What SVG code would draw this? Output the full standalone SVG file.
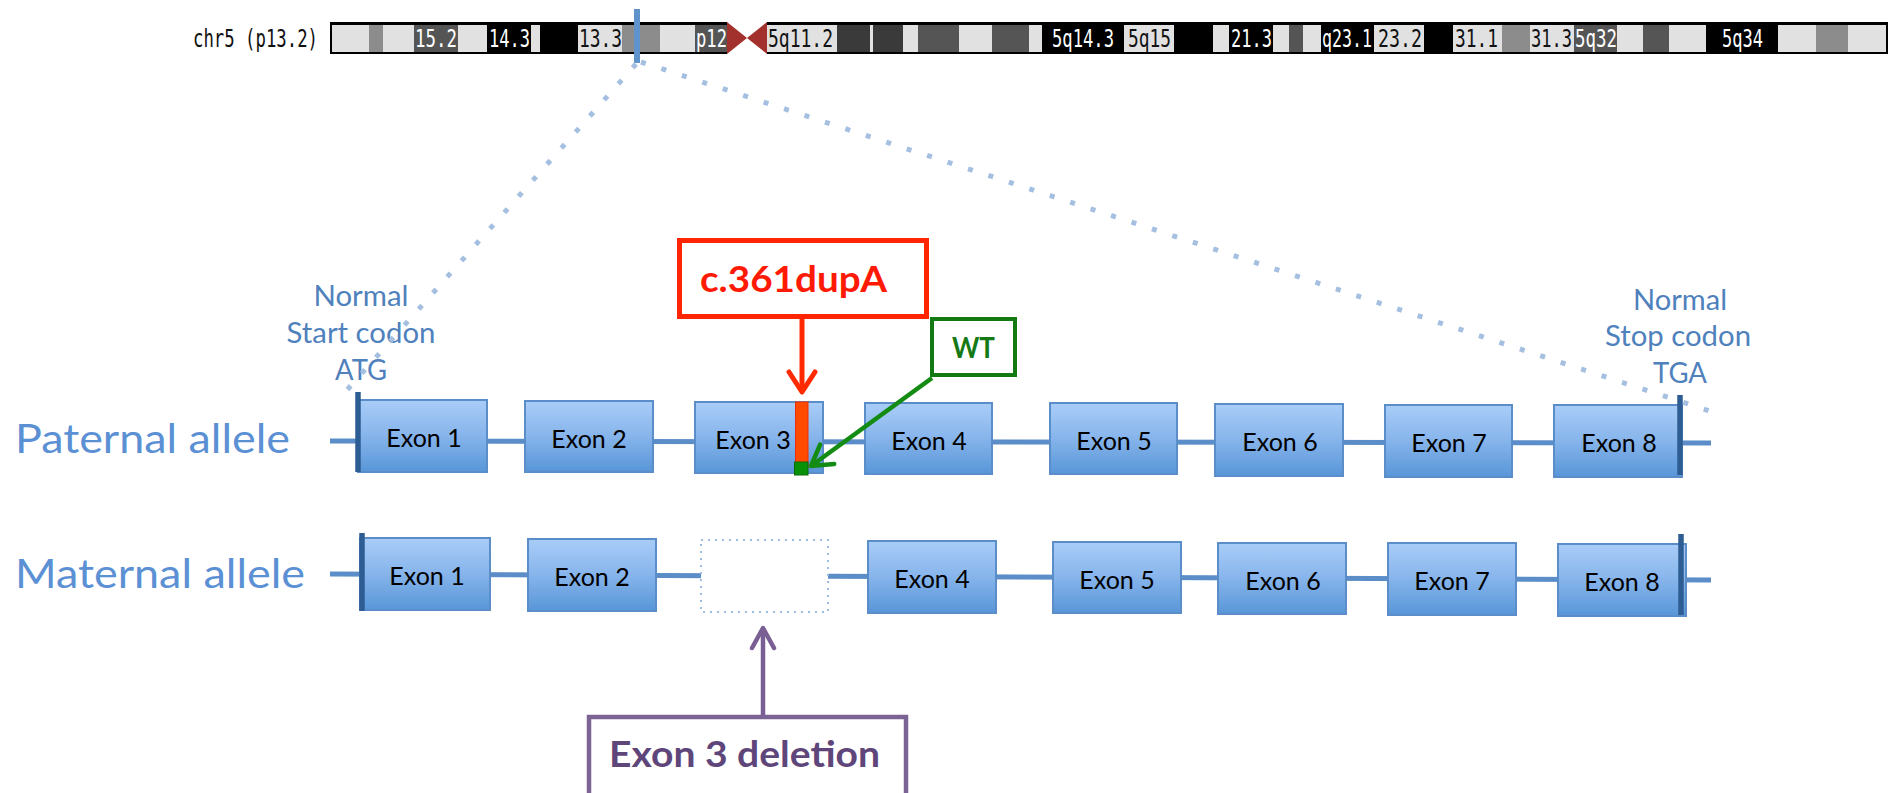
<svg xmlns="http://www.w3.org/2000/svg" width="1898" height="793" viewBox="0 0 1898 793">
<defs>
<linearGradient id="exonGrad" x1="0" y1="0" x2="0" y2="1">
<stop offset="0" stop-color="#a9cdf8"/>
<stop offset="0.5" stop-color="#86b4eb"/>
<stop offset="1" stop-color="#5896d8"/>
</linearGradient>
<marker id="headRed" markerUnits="userSpaceOnUse" markerWidth="30" markerHeight="34" viewBox="0 0 30 34" refX="24" refY="17" orient="auto">
<path d="M4,4 L24,17 L4,30" fill="none" stroke="#ff2a00" stroke-width="5" stroke-linecap="round" stroke-linejoin="round"/>
</marker>
<marker id="headGreen" markerUnits="userSpaceOnUse" markerWidth="30" markerHeight="34" viewBox="0 0 30 34" refX="24" refY="17" orient="auto">
<path d="M4,5 L24,17 L4,29" fill="none" stroke="#148c14" stroke-width="4.5" stroke-linecap="round" stroke-linejoin="round"/>
</marker>
<marker id="headPurple" markerUnits="userSpaceOnUse" markerWidth="30" markerHeight="34" viewBox="0 0 30 34" refX="24" refY="17" orient="auto">
<path d="M4,6 L24,17 L4,28" fill="none" stroke="#7a5f94" stroke-width="4.5" stroke-linecap="round" stroke-linejoin="round"/>
</marker>
</defs>
<style>
.band-l{fill:#e1e1e1}
.band-g{fill:#8c8c8c}
.band-d{fill:#555555}
.band-k{fill:#3a3a3a}
.bt{font-family:"DejaVu Sans Mono","Liberation Mono",monospace;font-size:18px}
.bt-w{fill:#ffffff}
.bt-b{fill:#111111}
.exon{fill:url(#exonGrad);stroke:#5b8ec9;stroke-width:2}
.exon-label{font-family:Lato,"Open Sans",sans-serif;font-size:25px;fill:#000;text-anchor:middle}
.allele{font-family:Lato,"Open Sans",sans-serif;font-size:41px;fill:#5b90d4}
.codon{font-family:Lato,"Open Sans",sans-serif;font-size:28px;fill:#4f81bd;text-anchor:middle}
.backbone{stroke:#5b8ec9;stroke-width:5;fill:none}
.endbar{stroke:#2d5d92;stroke-width:5.5}
.zoomline{stroke:#a4bfe0;stroke-width:5;stroke-dasharray:5 16.5;fill:none}
</style>

<!-- chromosome ideogram -->
<g id="chromosome">
<rect x="330" y="22" width="397" height="32" fill="#000"/>
<rect x="767" y="22" width="1121" height="32" fill="#000"/>
<g>
<rect class="band-l" x="332" y="25" width="37" height="27"/>
<rect class="band-g" x="369" y="25" width="14" height="27"/>
<rect class="band-l" x="383" y="25" width="31" height="27"/>
<rect class="band-d" x="414" y="25" width="44" height="27"/>
<rect class="band-l" x="458" y="25" width="29" height="27"/>
<rect class="band-l" x="531" y="25" width="9" height="27"/>
<rect class="band-l" x="578" y="25" width="44" height="27"/>
<rect class="band-g" x="622" y="25" width="38" height="27"/>
<rect class="band-l" x="660" y="25" width="35" height="27"/>
<rect class="band-d" x="695" y="25" width="32" height="27"/>
<rect class="band-l" x="767" y="25" width="70" height="27"/>
<rect class="band-k" x="837" y="25" width="33" height="27"/>
<rect class="band-l" x="870" y="25" width="3" height="27"/>
<rect class="band-k" x="873" y="25" width="30" height="27"/>
<rect class="band-l" x="903" y="25" width="15" height="27"/>
<rect class="band-d" x="918" y="25" width="41" height="27"/>
<rect class="band-l" x="959" y="25" width="33" height="27"/>
<rect class="band-d" x="992" y="25" width="37" height="27"/>
<rect class="band-l" x="1029" y="25" width="13" height="27"/>
<rect class="band-l" x="1124" y="25" width="50" height="27"/>
<rect class="band-l" x="1213" y="25" width="16" height="27"/>
<rect class="band-l" x="1273" y="25" width="16" height="27"/>
<rect class="band-d" x="1289" y="25" width="14" height="27"/>
<rect class="band-l" x="1303" y="25" width="18" height="27"/>
<rect class="band-l" x="1374" y="25" width="50" height="27"/>
<rect class="band-l" x="1453" y="25" width="49" height="27"/>
<rect class="band-g" x="1502" y="25" width="28" height="27"/>
<rect class="band-l" x="1530" y="25" width="44" height="27"/>
<rect class="band-d" x="1574" y="25" width="43" height="27"/>
<rect class="band-l" x="1617" y="25" width="26" height="27"/>
<rect class="band-d" x="1643" y="25" width="26" height="27"/>
<rect class="band-l" x="1669" y="25" width="37" height="27"/>
<rect class="band-l" x="1778" y="25" width="38" height="27"/>
<rect class="band-g" x="1816" y="25" width="32" height="27"/>
<rect class="band-l" x="1848" y="25" width="38" height="27"/>
</g>
<polygon points="727,22 747,38 767,22 767,54 747,38 727,54" fill="#a2302c"/>
<g transform="matrix(1,0,0,1.4,0,-18.68)">
<text class="bt bt-b" x="193" y="46.7" textLength="125" lengthAdjust="spacingAndGlyphs">chr5 (p13.2)</text>
<text class="bt bt-w" x="415" y="46.7" textLength="42" lengthAdjust="spacingAndGlyphs">15.2</text>
<text class="bt bt-w" x="489" y="46.7" textLength="41" lengthAdjust="spacingAndGlyphs">14.3</text>
<text class="bt bt-b" x="579" y="46.7" textLength="43" lengthAdjust="spacingAndGlyphs">13.3</text>
<text class="bt bt-w" x="696" y="46.7" textLength="31" lengthAdjust="spacingAndGlyphs">p12</text>
<text class="bt bt-b" x="768" y="46.7" textLength="65" lengthAdjust="spacingAndGlyphs">5q11.2</text>
<text class="bt bt-w" x="1052" y="46.7" textLength="62" lengthAdjust="spacingAndGlyphs">5q14.3</text>
<text class="bt bt-b" x="1128" y="46.7" textLength="43" lengthAdjust="spacingAndGlyphs">5q15</text>
<text class="bt bt-w" x="1231" y="46.7" textLength="41" lengthAdjust="spacingAndGlyphs">21.3</text>
<text class="bt bt-w" x="1322" y="46.7" textLength="50" lengthAdjust="spacingAndGlyphs">q23.1</text>
<text class="bt bt-b" x="1378" y="46.7" textLength="44" lengthAdjust="spacingAndGlyphs">23.2</text>
<text class="bt bt-b" x="1455" y="46.7" textLength="43" lengthAdjust="spacingAndGlyphs">31.1</text>
<text class="bt bt-b" x="1531" y="46.7" textLength="41" lengthAdjust="spacingAndGlyphs">31.3</text>
<text class="bt bt-w" x="1575" y="46.7" textLength="42" lengthAdjust="spacingAndGlyphs">5q32</text>
<text class="bt bt-w" x="1722" y="46.7" textLength="41" lengthAdjust="spacingAndGlyphs">5q34</text>
</g>
<rect id="locus-marker" x="634" y="9" width="6" height="54" fill="#5f93cc"/>
</g>

<!-- gene backbones -->
<g id="backbones">
<line class="backbone" x1="330" y1="441" x2="1711" y2="443"/>
<line class="backbone" x1="330" y1="574" x2="1711" y2="580"/>
</g>

<!-- allele labels -->
<g id="label-paternal"><text class="allele" x="15" y="453" textLength="275" lengthAdjust="spacingAndGlyphs">Paternal allele</text></g>
<g id="label-maternal"><text class="allele" x="15" y="588" textLength="290" lengthAdjust="spacingAndGlyphs">Maternal allele</text></g>

<g id="label-start">
<text class="codon" x="361" y="306" textLength="95" lengthAdjust="spacingAndGlyphs">Normal</text>
<text class="codon" x="361" y="343" textLength="149" lengthAdjust="spacingAndGlyphs">Start codon</text>
<text class="codon" x="361" y="380" textLength="52" lengthAdjust="spacingAndGlyphs">ATG</text>
</g>
<g id="label-stop">
<text class="codon" x="1680" y="310" textLength="94" lengthAdjust="spacingAndGlyphs">Normal</text>
<text class="codon" x="1678" y="346" textLength="146" lengthAdjust="spacingAndGlyphs">Stop codon</text>
<text class="codon" x="1680" y="383" textLength="54" lengthAdjust="spacingAndGlyphs">TGA</text>
</g>

<!-- paternal exons -->
<g id="pat-exon1"><rect class="exon" x="358" y="400" width="129" height="72"/><text class="exon-label" x="424" y="447">Exon 1</text></g>
<g id="pat-exon2"><rect class="exon" x="525" y="401" width="128" height="71"/><text class="exon-label" x="589" y="448">Exon 2</text></g>
<g id="pat-exon3"><rect class="exon" x="695" y="402" width="128" height="71"/><text class="exon-label" x="753" y="449">Exon 3</text></g>
<g id="pat-exon4"><rect class="exon" x="865" y="403" width="127" height="71"/><text class="exon-label" x="929" y="450">Exon 4</text></g>
<g id="pat-exon5"><rect class="exon" x="1050" y="403" width="127" height="71"/><text class="exon-label" x="1114" y="450">Exon 5</text></g>
<g id="pat-exon6"><rect class="exon" x="1215" y="404" width="128" height="72"/><text class="exon-label" x="1280" y="451">Exon 6</text></g>
<g id="pat-exon7"><rect class="exon" x="1385" y="405" width="127" height="72"/><text class="exon-label" x="1449" y="452">Exon 7</text></g>
<g id="pat-exon8"><rect class="exon" x="1554" y="405" width="128" height="72"/><text class="exon-label" x="1619" y="452">Exon 8</text></g>
<g id="pat-start"><line class="endbar" x1="358" y1="392" x2="358" y2="472"/></g>
<g id="pat-stop"><line class="endbar" x1="1680" y1="395" x2="1680" y2="475"/></g>

<!-- maternal exons -->
<g id="mat-exon1"><rect class="exon" x="360" y="538" width="130" height="72"/><text class="exon-label" x="427" y="585">Exon 1</text></g>
<g id="mat-exon2"><rect class="exon" x="528" y="539" width="128" height="72"/><text class="exon-label" x="592" y="586">Exon 2</text></g>
<g id="mat-exon3-deleted"><rect x="701" y="540" width="127" height="72" fill="#fff" stroke="#9dbde4" stroke-width="2" stroke-dasharray="2 5"/></g>
<g id="mat-exon4"><rect class="exon" x="868" y="541" width="128" height="72"/><text class="exon-label" x="932" y="588">Exon 4</text></g>
<g id="mat-exon5"><rect class="exon" x="1053" y="542" width="128" height="71"/><text class="exon-label" x="1117" y="589">Exon 5</text></g>
<g id="mat-exon6"><rect class="exon" x="1218" y="543" width="128" height="71"/><text class="exon-label" x="1283" y="590">Exon 6</text></g>
<g id="mat-exon7"><rect class="exon" x="1388" y="543" width="128" height="72"/><text class="exon-label" x="1452" y="590">Exon 7</text></g>
<g id="mat-exon8"><rect class="exon" x="1558" y="544" width="128" height="72"/><text class="exon-label" x="1622" y="591">Exon 8</text></g>
<g id="mat-start"><line class="endbar" x1="362" y1="533" x2="362" y2="611"/></g>
<g id="mat-stop"><line class="endbar" x1="1681" y1="534" x2="1681" y2="615"/></g>

<!-- mutation marks -->
<g id="dup-mark">
<rect x="795.5" y="402" width="12.5" height="66" fill="#ff4a00" stroke="#e8300c" stroke-width="1"/>
<rect x="794.5" y="462" width="13.5" height="13" fill="#079107" stroke="#0a6a0a" stroke-width="1"/>
</g>

<!-- callouts -->
<g id="callout-dup">
<rect x="679.5" y="240.5" width="247" height="76" fill="#fff" stroke="#ff2500" stroke-width="5"/>
<text x="700" y="292" font-family="Lato, 'Open Sans', sans-serif" font-weight="bold" font-size="37" fill="#ff1a05" textLength="187" lengthAdjust="spacingAndGlyphs">c.361dupA</text>
</g>
<g id="callout-wt">
<rect x="932" y="319" width="83" height="56" fill="#fff" stroke="#137a13" stroke-width="4"/>
<text x="973.5" y="358" text-anchor="middle" font-family="Lato, 'Open Sans', sans-serif" font-weight="bold" font-size="28" fill="#157a15" textLength="43" lengthAdjust="spacingAndGlyphs">WT</text>
</g>
<g id="callout-deletion">
<rect x="589" y="717" width="317" height="100" fill="#fff" stroke="#7b6393" stroke-width="4.5"/>
<text x="609" y="767" font-family="Lato, 'Open Sans', sans-serif" font-weight="bold" font-size="37" fill="#5f467a" textLength="271" lengthAdjust="spacingAndGlyphs">Exon 3 deletion</text>
</g>

<!-- connectors -->
<g id="connectors">
<line class="zoomline" x1="636" y1="64" x2="339" y2="399"/>
<line class="zoomline" x1="641" y1="62" x2="1716" y2="413"/>
<line x1="802" y1="319" x2="802" y2="392" stroke="#ff2a00" stroke-width="5" marker-end="url(#headRed)"/>
<line x1="932" y1="378" x2="811" y2="466" stroke="#148c14" stroke-width="4.5" marker-end="url(#headGreen)"/>
<line x1="763" y1="715" x2="763" y2="628" stroke="#7a5f94" stroke-width="4.5" marker-end="url(#headPurple)"/>
</g>
</svg>
